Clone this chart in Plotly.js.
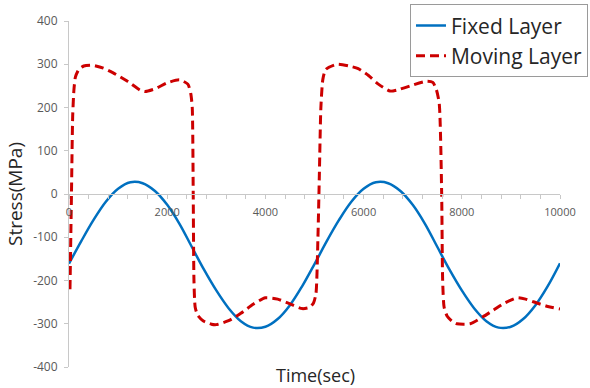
<!DOCTYPE html>
<html>
<head>
<meta charset="utf-8">
<script src="https://cdn.plot.ly/plotly-3.0.1.min.js"></script>
<style>
  html, body { margin: 0; padding: 0; background: #fff; }
  #chart { width: 590px; height: 388px; }
</style>
</head>
<body>
<div id="chart"></div>
<script>
// Stress histories of the two layers over one test run
const seriesNames = ['Fixed Layer', 'Moving Layer'];

const timeFixed = [0, 250, 500, 750, 1000, 1250, 1500, 1750, 2000, 2250, 2500,
  2750, 3000, 3250, 3500, 3750, 4000, 4250, 4500, 4750, 5000,
  5250, 5500, 5750, 6000, 6250, 6500, 6750, 7000, 7250, 7500,
  7750, 8000, 8250, 8500, 8750, 9000, 9250, 9500, 9750, 10000];
const stressFixed = [-161, -109, -60, -18, 12, 27, 25, 7, -25, -69, -122,
  -175, -223, -264, -294, -309, -307, -289, -257, -213, -162,
  -109, -60, -18, 12, 27, 25, 7, -25, -69, -122,
  -175, -223, -264, -294, -309, -307, -289, -257, -213, -160];

const timeMoving = [20, 50, 75, 100, 130, 200, 300, 470, 700, 900, 1200, 1450, 1550,
  1750, 2000, 2250, 2420, 2480, 2510, 2530, 2545, 2570, 2620, 2730, 2900,
  3000, 3250, 3500, 3750, 4000, 4250, 4500, 4750, 4900, 4980, 5030, 5070,
  5100, 5130, 5170, 5230, 5460, 5700, 5890, 6100, 6300, 6540, 6700, 6950,
  7290, 7410, 7480, 7540, 7590, 7610, 7640, 7700, 7800, 7900, 8170, 8430,
  8650, 8840, 9120, 9300, 9530, 9750, 10000];
const stressMoving = [-220, 0, 180, 240, 270, 288, 296, 298, 291, 280, 260, 240, 237,
  243, 257, 264, 254, 232, 200, 0, -200, -262, -280, -293, -301,
  -302, -293, -276, -255, -240, -243, -254, -265, -262, -252, -230, -100,
  50, 200, 265, 288, 300, 296, 290, 274, 254, 238, 241, 250,
  261, 258, 242, 210, 0, -200, -262, -282, -294, -300, -300, -284,
  -268, -254, -240, -243, -252, -260, -266];

const xTickVals = [0, 2000, 4000, 6000, 8000, 10000];
const xTickText = ['0', '2000', '4000', '6000', '8000', '10000'];
const yTickVals = [-400, -300, -200, -100, 0, 100, 200, 300, 400];
const yTickText = ['-400', '-300', '-200', '-100', '0', '100', '200', '300', '400'];

const axisGrey = '#c8c8c8';
const labelGrey = '#595959';
const font = 'Open Sans, sans-serif';

const traces = [
  {
    x: timeFixed, y: stressFixed, name: seriesNames[0],
    type: 'scatter', mode: 'lines',
    line: { color: '#0070c0', width: 2.5, shape: 'spline', smoothing: 1 }
  },
  {
    x: timeMoving, y: stressMoving, name: seriesNames[1],
    type: 'scatter', mode: 'lines',
    line: { color: '#cc0000', width: 3, dash: '9px,5px', shape: 'spline', smoothing: 0.6 }
  }
];

const layout = {
  width: 590, height: 388,
  margin: { l: 69, r: 30, t: 21, b: 21, autoexpand: false },
  paper_bgcolor: '#fff', plot_bgcolor: '#fff',
  showlegend: true,
  font: { family: font, color: labelGrey },
  xaxis: {
    range: [0, 10000],
    anchor: 'free', position: 0.5,
    showgrid: false, zeroline: false,
    showline: true, linecolor: axisGrey, linewidth: 1,
    tickmode: 'array', tickvals: xTickVals, ticktext: xTickText,
    ticks: 'outside', ticklen: 4, tickcolor: axisGrey,
    minor: { dtick: 400, ticks: 'outside', ticklen: 4, tickcolor: axisGrey, showgrid: false },
    ticklabelstandoff: 4,
    tickfont: { family: font, size: 11, color: labelGrey },
    automargin: false
  },
  yaxis: {
    range: [-400, 400],
    showgrid: false, zeroline: false,
    showline: true, linecolor: axisGrey, linewidth: 1,
    tickmode: 'array', tickvals: yTickVals, ticktext: yTickText,
    ticks: 'outside', ticklen: 4, tickcolor: axisGrey,
    ticklabelstandoff: 4,
    tickfont: { family: font, size: 12, color: labelGrey },
    title: { text: 'Stress(MPa)', standoff: 5, font: { family: font, size: 19, color: '#262626' } },
    automargin: false
  },
  legend: {
    x: 1.057, xanchor: 'right', y: 1.048, yanchor: 'top',
    bgcolor: '#fff', bordercolor: '#9a9a9a', borderwidth: 1,
    font: { family: font, size: 21, color: '#262626' },
    tracegroupgap: 0
  },
  annotations: [
    {
      text: 'Time(sec)', xref: 'paper', yref: 'paper',
      x: 0.503, y: -0.024, xanchor: 'center', yanchor: 'middle',
      showarrow: false, font: { family: font, size: 18, color: '#262626' }
    }
  ]
};

Plotly.newPlot('chart', traces, layout, { displayModeBar: false, staticPlot: true });
</script>
</body>
</html>
